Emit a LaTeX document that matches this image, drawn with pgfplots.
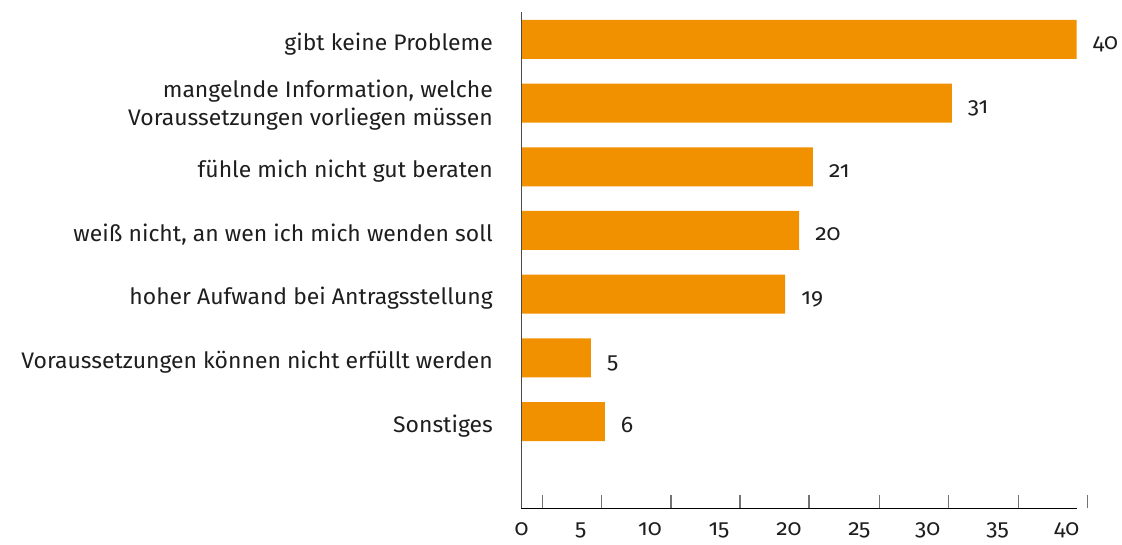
\documentclass[border=0pt]{standalone}
\usepackage{fontspec}
\setmainfont{Fira Sans}[Numbers=OldStyle, FakeStretch=1.02]
\usepackage{pgfplots}
\pgfplotsset{compat=1.18}
\definecolor{barorange}{HTML}{F29100}
\definecolor{txt}{HTML}{1E1E1E}
\begin{document}
\begin{tikzpicture}[x=1pt,y=1pt]
\path[use as bounding box] (0,0) rectangle (1122,545);
\begin{axis}[
  at={(521.5pt,36.7pt)}, anchor=south west,
  scale only axis, width=566.3pt, height=496pt,
  xmin=0, xmax=40.8,
  ymin=-0.427, ymax=7.363, y dir=reverse,
  clip=false,
  axis x line*=bottom, axis y line*=left,
  axis line style={draw=none},
  xbar, bar width=39pt,
  xtick={1.5,5.75,10.77,15.74,20.71,25.78,30.78,35.79,40.76},
  xticklabels={},
  xtick align=inside,
  x tick style={draw=black!55, line width=1.3pt},
  major tick length=13pt,
  extra x ticks={0.01,4.27,9.26,14.23,19.27,24.34,29.26,34.31,39.28},
  extra x tick labels={0,5,10,15,20,25,30,35,40},
  extra x tick style={major tick length=0pt, tick style={draw=none}},
  xticklabel style={anchor=base, inner sep=0pt, yshift=-27.2pt, font=\fontsize{22.5}{28.3}\selectfont, text=txt},
  ytick={0,1,2,3,4,5,6},
  yticklabels={gibt keine Probleme,{\raisebox{16.7pt}{\begin{tabular}[t]{@{}r@{}}mangelnde Information, welche\\Voraussetzungen vorliegen müssen\end{tabular}}},fühle mich nicht gut beraten,{weiß nicht, an wen ich mich wenden soll},hoher Aufwand bei Antragsstellung,Voraussetzungen können nicht erfüllt werden,Sonstiges},
  y tick style={draw=none},
  yticklabel style={anchor=base east, inner sep=0pt, xshift=-15.5pt, yshift=-10.7pt, font=\fontsize{22.5}{28.3}\selectfont, text=txt},
  /pgf/number format/assume math mode=true,
  nodes near coords,
  nodes near coords style={anchor=base west, inner sep=0pt, xshift=16pt, yshift=-10.5pt, font=\fontsize{22.5}{28.3}\selectfont, text=txt},
]
\addplot[fill=barorange, draw=none] coordinates {
  (40,0) (31,1) (21,2) (20,3) (19,4) (5,5) (6,6)
};
\draw[black!70, line width=1.3pt] (axis cs:0,-0.427) -- (axis cs:0,7.363);
\draw[black, line width=1.3pt] (axis cs:0,7.363) -- (axis cs:40,7.363);
\end{axis}
\end{tikzpicture}
\end{document}
